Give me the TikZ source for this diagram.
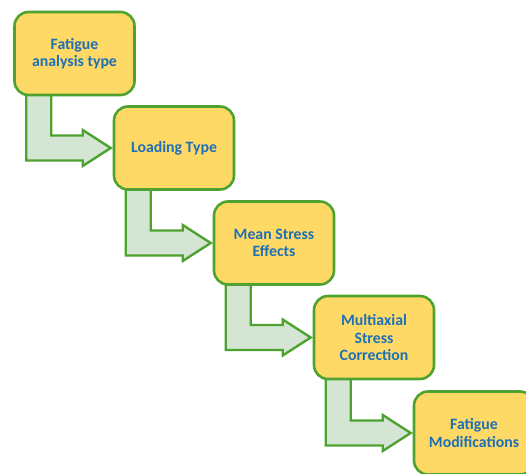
\documentclass[tikz,border=0pt]{standalone}
\usepackage{fontspec}
\setmainfont{Carlito}[BoldFont={Carlito Bold}]
\usetikzlibrary{calc,backgrounds}
\definecolor{boxfill}{HTML}{FFD966}
\definecolor{boxline}{RGB}{78,163,48}
\definecolor{arrfill}{RGB}{212,230,211}
\definecolor{txtblue}{RGB}{30,112,182}
\tikzset{
  stepbox/.style={draw=boxline, line width=2.6pt, fill=boxfill, rounded corners=14pt,
    minimum width=120pt, minimum height=83pt, inner sep=0pt, align=center,
    text=txtblue, font=\bfseries\fontsize{15.8}{17.5}\selectfont},
  bent/.style={draw=boxline, line width=2.4pt, fill=arrfill, line join=miter}
}
\newcommand\bentarrow[2]{%
  \draw[bent] let \p1=(#1.south west), \p2=(#2.west) in
    (\x1+13pt,\y1+6pt) -- (\x1+13pt,\y2-12.5pt) -- (\x2-30pt,\y2-12.5pt)
    -- (\x2-30pt,\y2-18pt) -- (\x2-2pt,\y2) -- (\x2-30pt,\y2+18pt)
    -- (\x2-30pt,\y2+12.5pt) -- (\x1+38pt,\y2+12.5pt) -- (\x1+38pt,\y1+6pt) -- cycle;}
\begin{document}
\begin{tikzpicture}[x=1pt,y=1pt]
\useasboundingbox (0,0) rectangle (526,-473);
\node[stepbox] (b1) at (74.5,-53.5) {Fatigue\\analysis type};
\node[stepbox] (b2) at (174,-148) {Loading Type};
\node[stepbox] (b3) at (274,-243) {Mean Stress\\Effects};
\node[stepbox] (b4) at (374,-337.5) {Multiaxial\\Stress\\Correction};
\node[stepbox] (b5) at (474,-433) {Fatigue\\Modifications};
\begin{scope}[on background layer]
\bentarrow{b1}{b2}
\bentarrow{b2}{b3}
\bentarrow{b3}{b4}
\bentarrow{b4}{b5}
\end{scope}
\end{tikzpicture}
\end{document}
